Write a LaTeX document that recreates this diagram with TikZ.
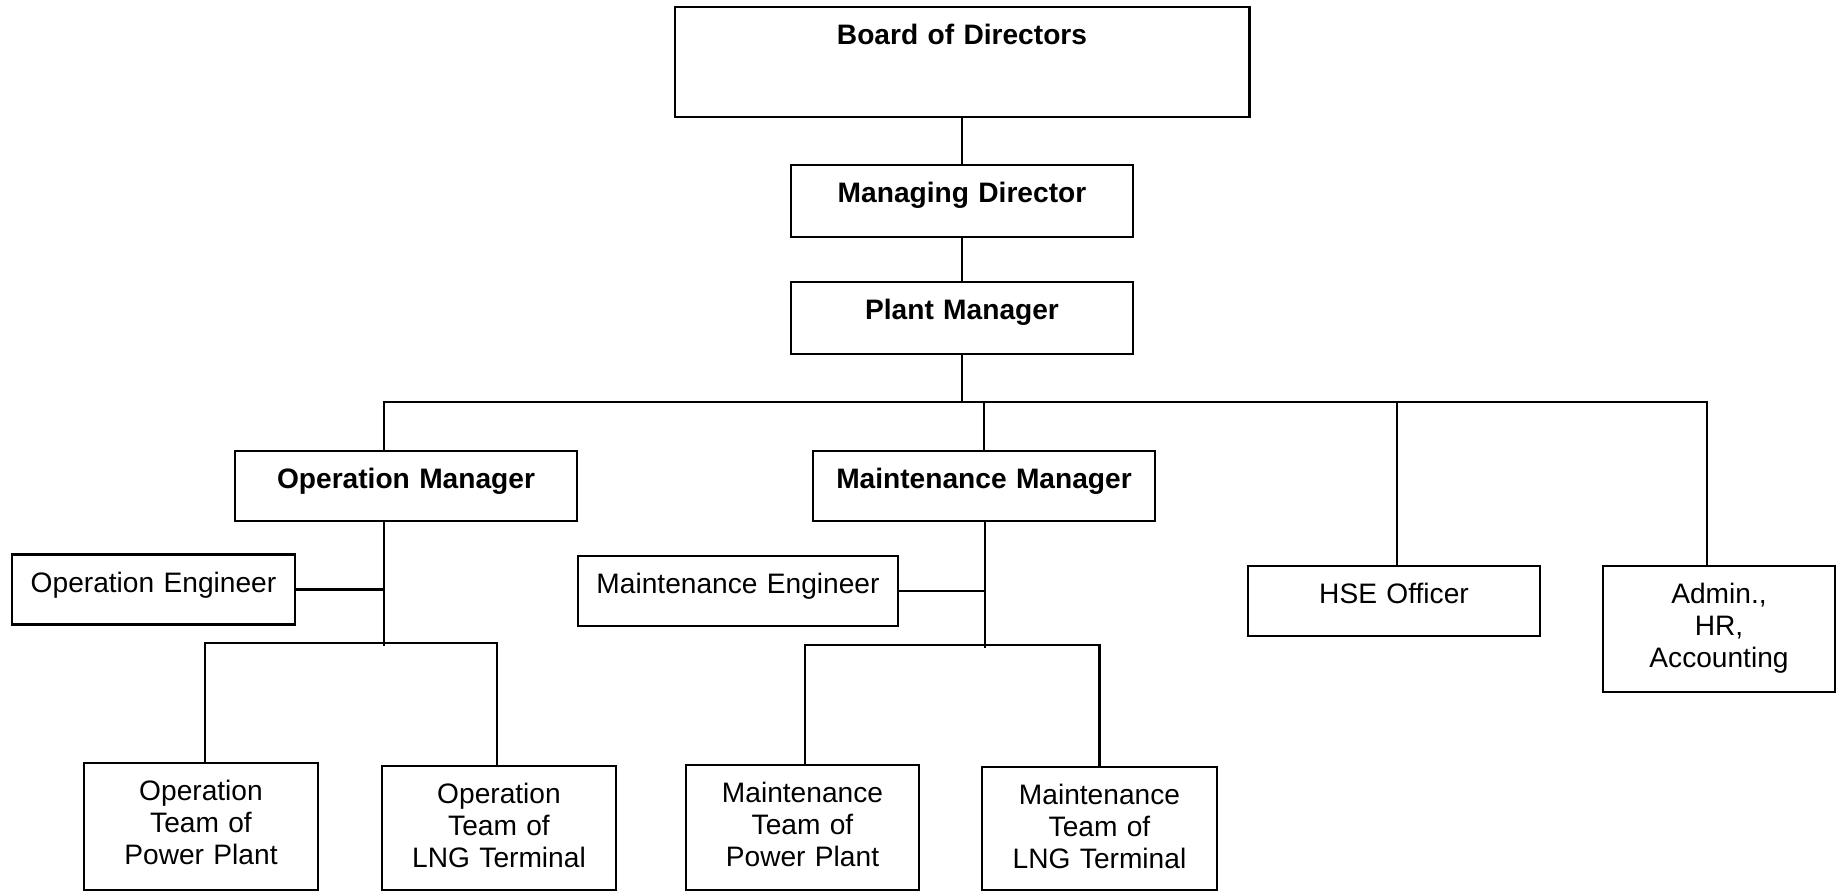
\documentclass[tikz,border=0pt]{standalone}
\usepackage{fontspec}
\setmainfont{Liberation Sans}
\usetikzlibrary{calc}

\begin{document}
\begin{tikzpicture}[
    x=0.01cm,y=-0.01cm,
    box/.style={
        draw=black,
        line width=0.75pt,
        inner sep=0pt,
        align=center,
        text height=0.38cm,
        font=\fontsize{8}{9.1}\selectfont
    },
    headbox/.style={box, font=\fontsize{8}{9.1}\selectfont\bfseries},
    mgrbox/.style={headbox, text width=3.42cm, text depth=0.32cm},
    staffbox/.style={box, text depth=0.32cm},
    teambox/.style={box, text depth=0.88cm},
    wire/.style={line width=0.75pt, draw=black}
]
\useasboundingbox (0,0) rectangle (1836,892);

% -----------------------------------------------------------------------------
% Top of the chart
% -----------------------------------------------------------------------------
\node[headbox, text width=5.74cm, text depth=0.72cm] (board) at (962,62)
    {Board of Directors};
\node[mgrbox, text depth=0.34cm] (md) at (962,201) {Managing Director};
\node[mgrbox, text depth=0.34cm] (pm) at (962,318) {Plant Manager};

\draw[wire] (board.south) -- (md.north);
\draw[wire] (md.south) -- (pm.north);

% -----------------------------------------------------------------------------
% Managers and officers
% -----------------------------------------------------------------------------
\node[mgrbox] (opmgr) at (406,486) {Operation Manager};
\node[mgrbox] (mtmgr) at (984,486) {Maintenance Manager};
\node[staffbox, text width=2.92cm] (hse) at (1394,601) {HSE Officer};
\node[box, text width=2.32cm, text depth=0.88cm] (admin) at (1719,629)
    {Admin.,\\HR,\\Accounting};

\coordinate (opbus) at (384,402);
\coordinate (hsebus) at (1397,402);
\coordinate (adbus) at (1707,402);
\draw[wire] (pm.south) -- (pm.south |- opbus);
\draw[wire] (opmgr.north -| opbus) -- (opbus) -- (adbus) -- (admin.north -| adbus);
\draw[wire] (mtmgr.north) -- (mtmgr.north |- opbus);
\draw[wire] (hse.north -| hsebus) -- (hsebus);

% -----------------------------------------------------------------------------
% Operation branch
% -----------------------------------------------------------------------------
\node[staffbox, text width=2.83cm] (openg) at (153.5,589.5) {Operation Engineer};
\node[teambox, text width=2.34cm, text depth=0.89cm] (optpp) at (201,826.5)
    {Operation\\Team of\\Power Plant};
\node[teambox, text width=2.34cm, text depth=0.86cm] (optlng) at (499,828)
    {Operation\\Team of\\LNG Terminal};

\coordinate (opjoin) at (384,643);
\coordinate (opleft) at (205,643);
\coordinate (opright) at (497,643);
\draw[wire] (opmgr.south -| opjoin) -- ($(opjoin)+(0,3)$);
\draw[wire] (openg.east) -- (openg.east -| opjoin);
\draw[wire] (optpp.north -| opleft) -- (opleft) -- (opright) -- (optlng.north -| opright);

% -----------------------------------------------------------------------------
% Maintenance branch
% -----------------------------------------------------------------------------
\node[staffbox, text width=3.20cm] (mteng) at (738,591) {Maintenance Engineer};
\node[teambox, text width=2.33cm, text depth=0.87cm] (mttpp) at (802.5,827.5)
    {Maintenance\\Team of\\Power Plant};
\node[teambox, text width=2.35cm, text depth=0.85cm] (mttlng) at (1099.5,828.5)
    {Maintenance\\Team of\\LNG Terminal};

\coordinate (mtjoin) at (985,645);
\coordinate (mtleft) at (805,645);
\draw[wire] (mtmgr.south -| mtjoin) -- ($(mtjoin)+(0,3)$);
\draw[wire] (mteng.east) -- (mteng.east -| mtjoin);
\draw[wire] (mttpp.north -| mtleft) -- (mtleft) -| (mttlng.north);

\end{tikzpicture}
\end{document}
